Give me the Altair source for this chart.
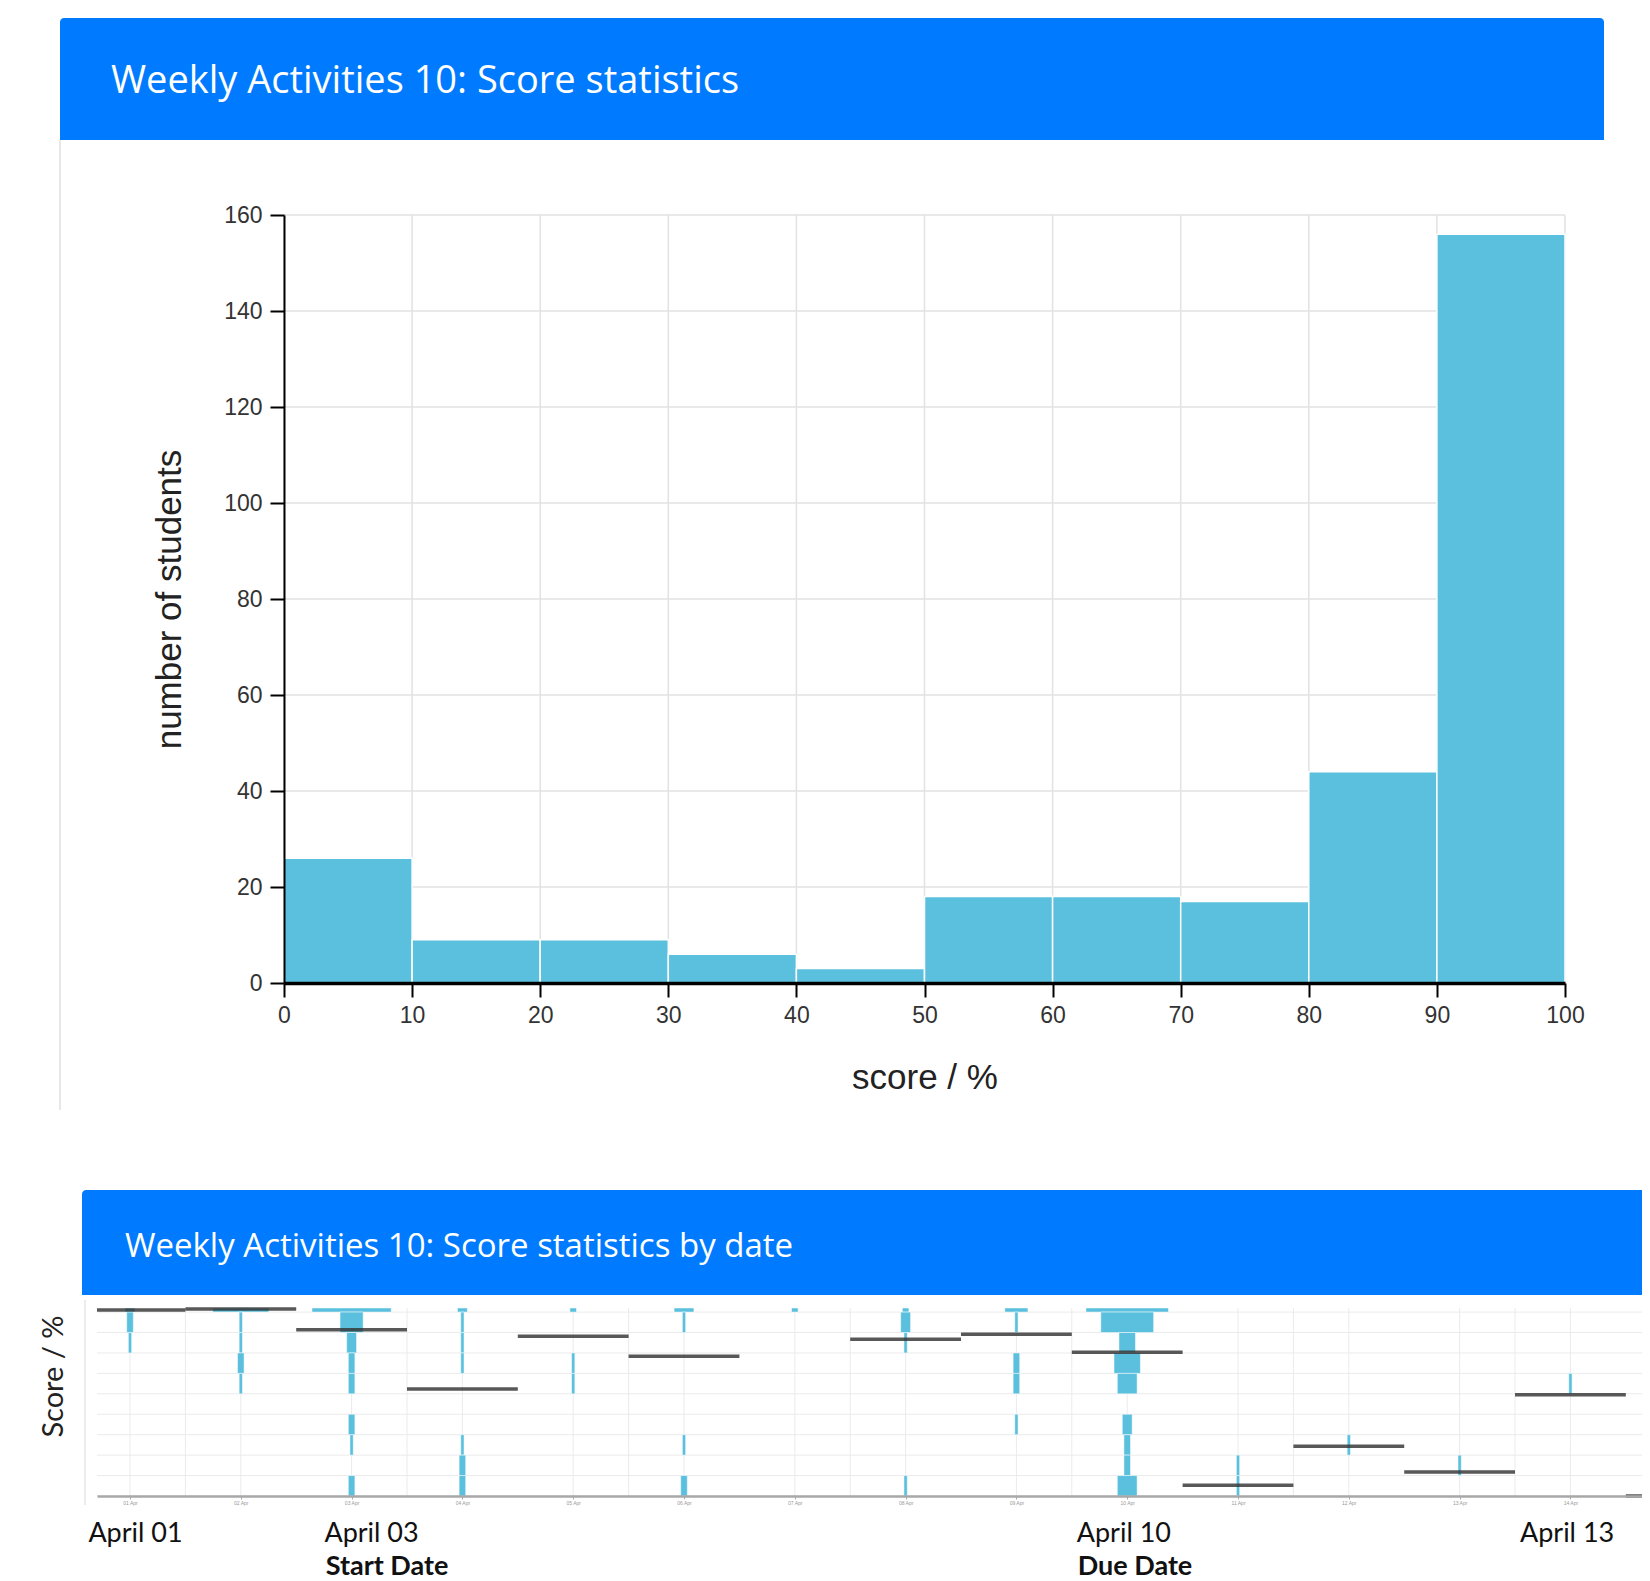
import json
import altair as alt
import pandas as pd

# ---------------- text ----------------
TITLE_TOP = "Weekly Activities 10: Score statistics"
TITLE_BOTTOM = "Weekly Activities 10: Score statistics by date"

# ---------------- histogram data ----------------
score_bin_start = [0, 10, 20, 30, 40, 50, 60, 70, 80, 90]
score_bin_count = [26, 9, 9, 6, 3, 18, 18, 17, 44, 156]
hist_x_ticks = [0, 10, 20, 30, 40, 50, 60, 70, 80, 90, 100]
hist_y_ticks = [0, 20, 40, 60, 80, 100, 120, 140, 160]

# ---------------- by-date data ----------------
day_labels = ["01 Apr", "02 Apr", "03 Apr", "04 Apr", "05 Apr", "06 Apr", "07 Apr",
              "08 Apr", "09 Apr", "10 Apr", "11 Apr", "12 Apr", "13 Apr", "14 Apr", "15 Apr"]
day_mean = [91.0, 91.5, 81.4, 52.4, 78.2, 68.4, None, 76.7, 79.1, 70.3,
            5.3, 24.4, 11.7, 49.6, 0.0]
band_lower = [90, 80, 70, 60, 50, 40, 30, 20, 10, 0]
day_band_counts = [
    [3, 2, 1, 0, 0, 0, 0, 0, 0, 0],
    [17, 1, 1, 2, 1, 0, 0, 0, 0, 0],
    [24, 7, 3, 2, 2, 0, 2, 1, 0, 2],
    [3, 1, 1, 1, 0, 0, 0, 1, 2, 2],
    [2, 0, 0, 1, 1, 0, 0, 0, 0, 0],
    [6, 1, 0, 0, 0, 0, 0, 1, 0, 2],
    [2, 0, 0, 0, 0, 0, 0, 0, 0, 0],
    [2, 3, 1, 0, 0, 0, 0, 0, 0, 1],
    [7, 1, 0, 2, 2, 0, 1, 0, 0, 0],
    [25, 16, 5, 8, 6, 0, 3, 2, 2, 6],
    [0, 0, 0, 0, 0, 0, 0, 0, 1, 1],
    [0, 0, 0, 0, 0, 0, 0, 1, 0, 0],
    [0, 0, 0, 0, 0, 0, 0, 0, 1, 0],
    [0, 0, 0, 0, 1, 0, 0, 0, 0, 0],
    [0, 0, 0, 0, 0, 0, 0, 0, 0, 0],
]
score_grid = [0, 10, 20, 30, 40, 50, 60, 70, 80, 90]
tick_days = [0, 1, 2, 3, 4, 5, 6, 7, 8, 9, 10, 11, 12, 13]
half_day_grid = [0.5, 2.5, 4.5, 6.5, 8.5, 10.5, 12.5]

annot_text = ["April 01", "April 03", "April 10", "April 13"]
annot_pos = [0.05, 2.18, 8.97, 12.97]
event_text = ["Start Date", "Due Date"]
event_pos = [2.32, 9.07]

# ---------------- layout (the histogram plot is the chart's own plot area) ----------------
PW, PH = 1281, 768            # histogram plot area
PAD = {"left": 276, "top": 207, "right": 77, "bottom": 598}
BLUE = "#5bc0de"
HEADER = "#007bff"
LABEL_FONT = "Liberation Sans"

# ================= histogram =================
HX = alt.Scale(domain=[0, 100], range=[0, PW], nice=False, zero=False)
HY = alt.Scale(domain=[0, 160], range=[PH, 0], nice=False, zero=False)

hist_df = pd.DataFrame({"start": score_bin_start, "count": score_bin_count})

hx_axis = alt.Axis(orient="bottom", values=hist_x_ticks, grid=False,
                   domainColor="black", domainWidth=3.5, tickColor="black", tickWidth=2,
                   tickSize=14, labelFont=LABEL_FONT, labelFontSize=23,
                   labelColor="#333", labelPadding=7, labelFlush=False, labelOverlap=False,
                   title="score / %", titleFont=LABEL_FONT, titleFontSize=35,
                   titleFontWeight="normal", titleColor="#222", titleX=PW / 2, titleY=105,
                   titleBaseline="alphabetic", titleAlign="center", zindex=2)
hy_axis = alt.Axis(orient="left", values=hist_y_ticks, grid=False,
                   domainColor="black", domainWidth=2, tickColor="black", tickWidth=2,
                   tickSize=14, labelFont=LABEL_FONT, labelFontSize=23,
                   labelColor="#333", labelPadding=8, labelFlush=False, labelOverlap=False,
                   title="number of students", titleFont=LABEL_FONT, titleFontSize=35,
                   titleFontWeight="normal", titleColor="#222", titleAngle=270,
                   titleX=-104, titleY=PH / 2, titleBaseline="alphabetic", titleAlign="center",
                   zindex=2)

h_vgrid = alt.Chart(pd.DataFrame({"v": hist_x_ticks})).transform_calculate(
    lo="0", hi="160"
).mark_rule(color="#e2e2e2", strokeWidth=1.5).encode(
    x=alt.X("v:Q", scale=HX, axis=None),
    y=alt.Y("lo:Q", scale=HY, axis=None),
    y2="hi:Q",
)
h_hgrid = alt.Chart(pd.DataFrame({"v": hist_y_ticks})).transform_calculate(
    lo="0", hi="100"
).mark_rule(color="#e2e2e2", strokeWidth=1.5).encode(
    y=alt.Y("v:Q", scale=HY, axis=None),
    x=alt.X("lo:Q", scale=HX, axis=None),
    x2="hi:Q",
)
h_bars = alt.Chart(hist_df).transform_calculate(
    end="datum.start + 10", zero="0"
).mark_rect(color=BLUE, stroke="white", strokeWidth=1.5).encode(
    x=alt.X("start:Q", scale=HX, axis=hx_axis),
    x2="end:Q",
    y=alt.Y("count:Q", scale=HY, axis=hy_axis),
    y2="zero:Q",
)

# ================= score by date (below the histogram panel) =================
BX = alt.Scale(domain=[-0.2978, 13.646], range=[-187, 1358], clamp=True, nice=False, zero=False)
BY = alt.Scale(domain=[0, 92], range=[1281, 1093], clamp=True, nice=False, zero=False)

band_rows = []
for d, counts in enumerate(day_band_counts):
    for lo, c in zip(band_lower, counts):
        if c > 0:
            band_rows.append({"day": d, "lo": lo, "n": c})
band_df = pd.DataFrame(band_rows)
mean_df = pd.DataFrame({"day": list(range(len(day_mean))), "mean": day_mean})

label_expr = json.dumps(day_labels) + "[datum.value]"
bx_axis = alt.Axis(orient="bottom", offset=1281 - PH, values=tick_days, labelExpr=label_expr,
                   grid=False, labelFontSize=5, labelColor="#999", labelPadding=1,
                   tickSize=3, tickColor="#aaa", domainColor="#a8a8a8", domainWidth=2.5,
                   labelFlush=False, labelOverlap=False, title=None, zindex=1)
by_axis = alt.Axis(orient="left", offset=187, grid=False, labels=False, ticks=False,
                   domain=False, title="Score / %", titleFont="Lato", titleFontSize=29,
                   titleFontWeight="normal", titleColor="#222", titleAngle=270,
                   titleX=-29, titleY=1161, titleBaseline="bottom", titleAlign="center")

b_hgrid = alt.Chart(pd.DataFrame({"v": score_grid})).transform_calculate(
    lo="-1", hi="20"
).mark_rule(color="#ebebeb", strokeWidth=1).encode(
    y=alt.Y("v:Q", scale=BY, axis=None),
    x=alt.X("lo:Q", scale=BX, axis=None),
    x2="hi:Q",
)
b_vgrid = alt.Chart(pd.DataFrame({"v": tick_days + half_day_grid})).transform_calculate(
    lo="0", hi="100"
).mark_rule(color="#ebebeb", strokeWidth=1).encode(
    x=alt.X("v:Q", scale=BX, axis=None),
    y=alt.Y("lo:Q", scale=BY, axis=None),
    y2="hi:Q",
)
b_bands = alt.Chart(band_df).transform_calculate(
    x0="datum.day - datum.n * 0.0149",
    x1="datum.day + datum.n * 0.0149",
    hi="datum.lo + 10",
).mark_rect(color=BLUE, stroke="white", strokeWidth=0.5).encode(
    x=alt.X("x0:Q", scale=BX, axis=bx_axis),
    x2="x1:Q",
    y=alt.Y("lo:Q", scale=BY, axis=by_axis),
    y2="hi:Q",
)
b_means = alt.Chart(mean_df).transform_filter("isValid(datum.mean)").transform_calculate(
    x0="datum.day - 0.5", x1="datum.day + 0.5"
).mark_rule(color="#333333", strokeWidth=3.5, opacity=0.82).encode(
    x=alt.X("x0:Q", scale=BX, axis=None),
    x2="x1:Q",
    y=alt.Y("mean:Q", scale=BY, axis=None),
)
b_annot = alt.Chart(pd.DataFrame({"pos": annot_pos, "text": annot_text})).mark_text(
    font="Lato", fontSize=27, color="#111", align="center", baseline="alphabetic"
).encode(
    x=alt.X("pos:Q", scale=BX, axis=None),
    y=alt.value(1327),
    text="text:N",
)
b_event = alt.Chart(pd.DataFrame({"pos": event_pos, "text": event_text})).mark_text(
    font="Lato", fontSize=27, fontWeight="bold", color="#111", align="center",
    baseline="alphabetic"
).encode(
    x=alt.X("pos:Q", scale=BX, axis=None),
    y=alt.value(1360),
    text="text:N",
)

# ================= panel decoration (relative to the histogram plot origin) =================
one = pd.DataFrame({"k": [0]})
hdr1 = alt.Chart(one).mark_rect(color=HEADER, cornerRadiusTopLeft=4, cornerRadiusTopRight=4).encode(
    x=alt.value(-224), x2=alt.value(1320), y=alt.value(-197), y2=alt.value(-75))
hdr1_txt = alt.Chart(one).mark_text(align="left", baseline="alphabetic", font="Open Sans",
                                    fontSize=38, color="white").encode(
    x=alt.value(-173), y=alt.value(-122.4), text=alt.value(TITLE_TOP))
hdr2 = alt.Chart(one).mark_rect(color=HEADER, cornerRadiusTopLeft=4).encode(
    x=alt.value(-202), x2=alt.value(1358), y=alt.value(975), y2=alt.value(1080))
hdr2_txt = alt.Chart(one).mark_text(align="left", baseline="alphabetic", font="Open Sans",
                                    fontSize=33, color="white").encode(
    x=alt.value(-159), y=alt.value(1041.5), text=alt.value(TITLE_BOTTOM))
border1 = alt.Chart(one).mark_rule(color="#e0e0e0", strokeWidth=1.5).encode(
    x=alt.value(-224), y=alt.value(-75), y2=alt.value(895))
border2 = alt.Chart(one).mark_rule(color="#e6e6e6", strokeWidth=1.5).encode(
    x=alt.value(-199), y=alt.value(1085), y2=alt.value(1290))

chart = alt.layer(
    h_vgrid, h_hgrid, h_bars,
    b_hgrid, b_vgrid, b_bands, b_means, b_annot, b_event,
    border1, border2, hdr1, hdr1_txt, hdr2, hdr2_txt,
).resolve_scale(
    x="independent", y="independent"
).resolve_axis(
    x="independent", y="independent"
).properties(
    width=PW, height=PH, padding=PAD, background="white",
    autosize=alt.AutoSizeParams(type="none"),
).configure_view(stroke=None)

chart.save("out.html", embed_options={"renderer": "svg", "actions": False})
